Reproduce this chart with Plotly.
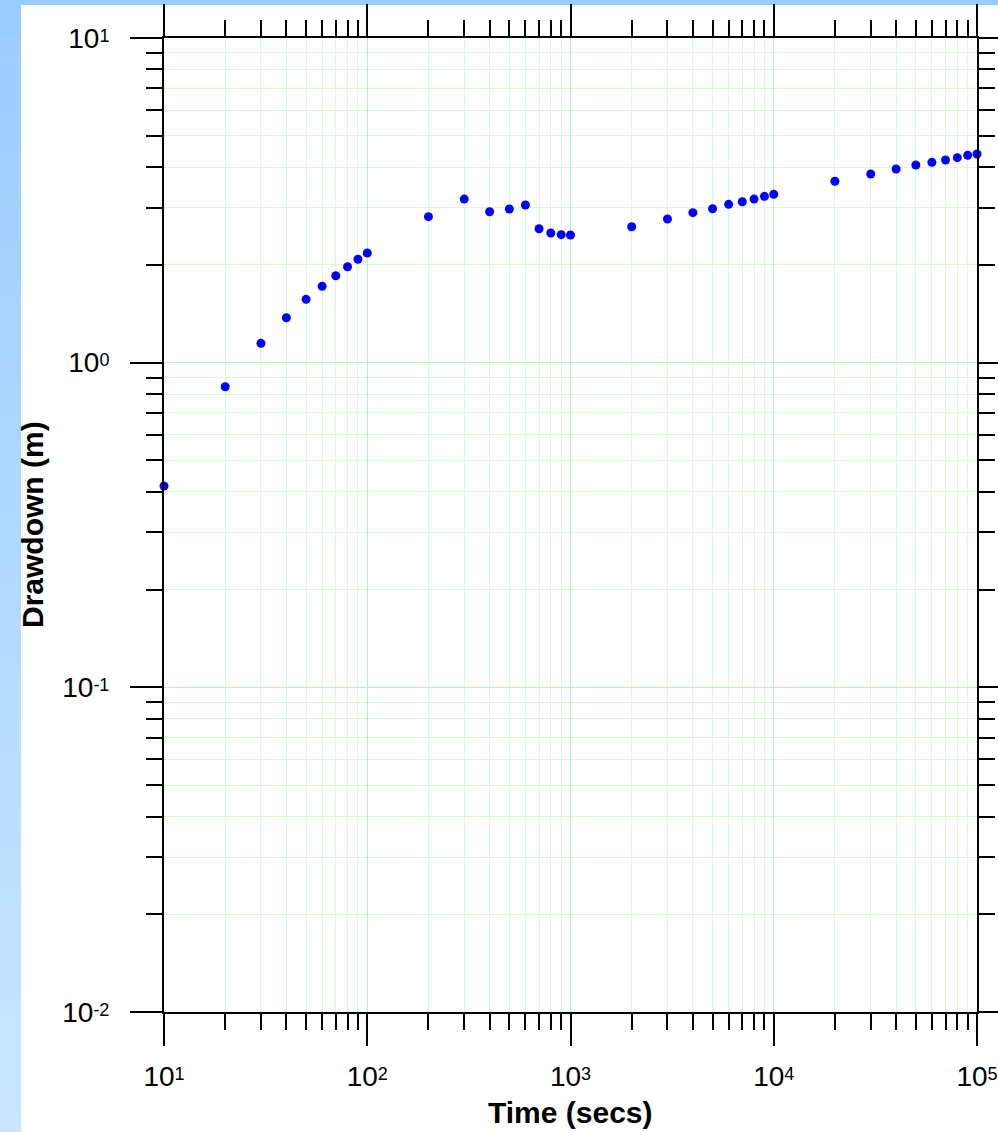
import plotly.graph_objects as go

# ---- data ----
time_secs = [10, 20, 30, 40, 50, 60, 70, 80, 90, 100,
             200, 300, 400, 500, 600, 700, 800, 900, 1000,
             2000, 3000, 4000, 5000, 6000, 7000, 8000, 9000, 10000,
             20000, 30000, 40000, 50000, 60000, 70000, 80000, 90000, 100000]
drawdown_m = [0.417, 0.843, 1.147, 1.375, 1.567, 1.719, 1.853, 1.975, 2.082, 2.177,
              2.816, 3.19, 2.917, 2.974, 3.059, 2.586, 2.508, 2.479, 2.473,
              2.623, 2.770, 2.897, 2.980, 3.074, 3.131, 3.19, 3.253, 3.301,
              3.62, 3.812, 3.950, 4.063, 4.141, 4.209, 4.279, 4.352, 4.393]

x_major = [10, 100, 1000, 10000, 100000]
x_major_exp = ["1", "2", "3", "4", "5"]
y_major = [0.01, 0.1, 1, 10]
y_major_exp = ["-2", "-1", "0", "1"]
x_minor = [m * d for d in [10, 100, 1000, 10000] for m in range(2, 10)]
y_minor = [m * d for d in [0.01, 0.1, 1] for m in range(2, 10)]

def sup_label(e):
    return "10<span style='font-size:18px;baseline-shift:6px'>%s</span>" % e

x_major_text = [sup_label(e) for e in x_major_exp]
y_major_text = [sup_label(e) for e in y_major_exp]

W, H = 998, 1132
L, R, T, B = 164, 21, 38, 120
pw, ph = W - L - R, H - T - B

def px_x(p):
    return (p - L) / pw

def px_y(p):
    return (H - B - p) / ph

fig = go.Figure()
fig.add_trace(go.Scatter(
    x=time_secs, y=drawdown_m, mode="markers",
    marker=dict(color="#0000ff", size=9, line=dict(width=0)),
    showlegend=False, cliponaxis=False))

font_family = "Arial, Liberation Sans, sans-serif"
axis_common = dict(
    type="log", showline=True, linecolor="black", linewidth=2,
    mirror="allticks", ticks="outside", ticklen=32, tickwidth=2, tickcolor="black",
    showgrid=True, gridcolor="#b8f2b8", gridwidth=1, zeroline=False,
    tickmode="array", ticklabeloverflow="allow",
    tickfont=dict(family=font_family, size=28, color="black"),
)

fig.update_xaxes(
    **axis_common, range=[1, 5], tickvals=x_major, ticktext=x_major_text,
    ticklabelstandoff=6,
    minor=dict(tickmode="array", tickvals=x_minor, ticks="outside", ticklen=16,
               tickwidth=2, tickcolor="black", showgrid=True,
               gridcolor="#d6fbd6", gridwidth=1))
fig.update_yaxes(
    **axis_common, range=[-2, 1], tickvals=y_major, ticktext=y_major_text,
    ticklabelstandoff=15,
    minor=dict(tickmode="array", tickvals=y_minor, ticks="outside", ticklen=16,
               tickwidth=2, tickcolor="black", showgrid=True,
               gridcolor="#d6fbd6", gridwidth=1))

# blue frame strips (left gradient strip and top strip)
shapes = []
n = 60
top_c = (153, 204, 255)
bot_c = (200, 230, 255)
for i in range(n):
    y0p = H * i / n
    y1p = H * (i + 1) / n
    t = (i + 0.5) / n
    c = tuple(int(round(top_c[k] + (bot_c[k] - top_c[k]) * t)) for k in range(3))
    shapes.append(dict(type="rect", xref="paper", yref="paper",
                       x0=px_x(0), x1=px_x(21), y0=px_y(y1p), y1=px_y(y0p) + 0.0005,
                       fillcolor="rgb(%d,%d,%d)" % c, line=dict(width=0), layer="below"))
shapes.append(dict(type="rect", xref="paper", yref="paper",
                   x0=px_x(0), x1=px_x(W), y0=px_y(5), y1=px_y(0),
                   fillcolor="rgb(153,204,255)", line=dict(width=0), layer="below"))

annotations = [
    dict(text="<b>Time (secs)</b>", xref="paper", yref="paper",
         x=0.5, y=px_y(1112), xanchor="center", yanchor="middle", showarrow=False,
         font=dict(family=font_family, size=30, color="black")),
    dict(text="<b>Drawdown (m)</b>", xref="paper", yref="paper",
         x=px_x(32), y=0.5, xanchor="center", yanchor="middle", showarrow=False,
         textangle=-90, font=dict(family=font_family, size=30, color="black")),
]

fig.update_layout(
    width=W, height=H,
    margin=dict(l=L, r=R, t=T, b=B, autoexpand=False),
    paper_bgcolor="white", plot_bgcolor="white",
    shapes=shapes, annotations=annotations,
    font=dict(family=font_family),
)

fig.write_html("out.html")
